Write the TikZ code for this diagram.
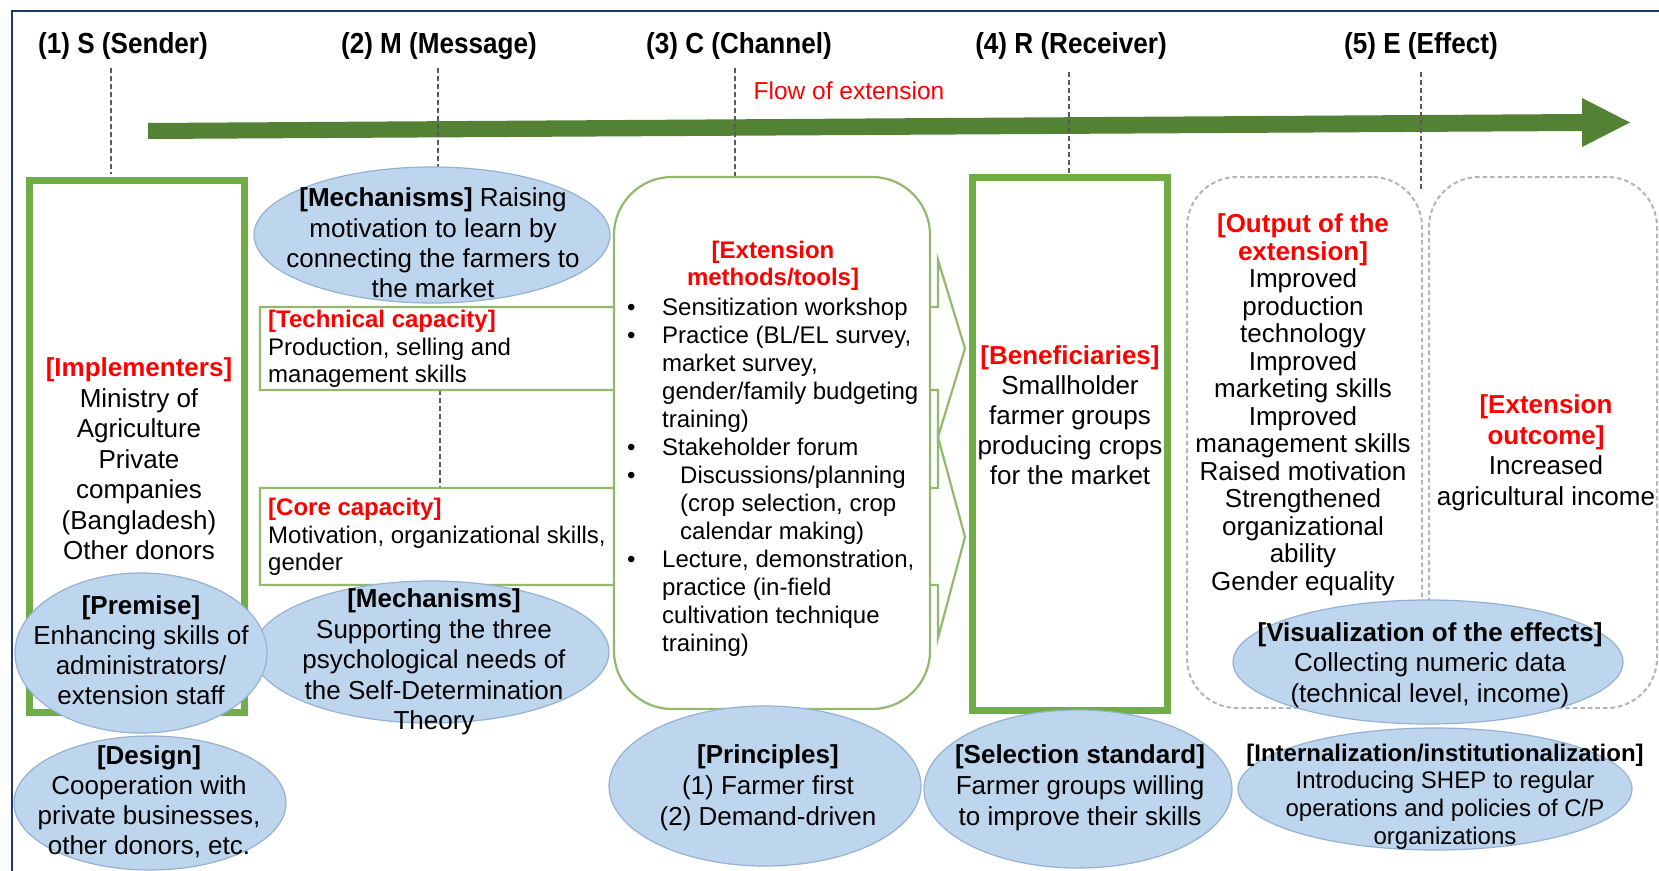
\documentclass[tikz,border=0pt]{standalone}
\usepackage{fontspec}
\setmainfont{Liberation Sans}
\newfontfamily\headfont[FakeStretch=0.9]{Liberation Sans}
\usetikzlibrary{shapes.geometric}

\definecolor{framec}{RGB}{31,56,100}
\definecolor{flowgreen}{RGB}{84,130,53}
\definecolor{boxgreen}{RGB}{112,173,71}
\definecolor{thingreen}{RGB}{147,185,110}
\definecolor{bubble}{RGB}{189,213,237}
\definecolor{bubbleedge}{RGB}{150,178,210}
\definecolor{dashgray}{RGB}{180,180,180}
\definecolor{guidegray}{RGB}{90,90,90}
\definecolor{hot}{RGB}{255,0,0}

\newcommand\hl[1]{\textcolor{hot}{\bfseries #1}}
\newcommand\itemdot{\makebox[0pt]{\textbullet}\hspace*{31pt}}
\newcommand\itemgap{\hspace*{31pt}}

\begin{document}
\begin{tikzpicture}[x=1pt,y=-1pt,
  head/.style={inner sep=0pt, font={\headfont\bfseries\fontsize{29}{34}\selectfont}},
  body/.style={inner sep=0pt, align=center, font={\fontsize{26}{30}\selectfont}},
  small/.style={inner sep=0pt, font={\fontsize{24}{27.5}\selectfont}},
  guide/.style={draw=guidegray, line width=1.4pt, dash pattern=on 5pt off 3pt},
  thickbox/.style={draw=boxgreen, line width=7pt, fill=white, inner sep=0pt},
  thinline/.style={draw=thingreen, line width=2.2pt, fill=white},
  dashbox/.style={draw=dashgray, line width=2pt, dash pattern=on 4.5pt off 3pt, rounded corners=50pt, inner sep=0pt},
  bubble/.style={ellipse, draw=bubbleedge, fill=bubble, line width=1.2pt, inner sep=0pt}
]
\useasboundingbox (0,0) rectangle (1659,870);
\clip (0,0) rectangle (1659,870);
\fill[white] (0,0) rectangle (1659,870);

% outer frame
\draw[framec, line width=2.2pt] (12,11) rectangle (1700,900);

% column headings
\node[head] (hS) at (123,46) {(1) S (Sender)};
\node[head] (hM) at (439,46) {(2) M (Message)};
\node[head] (hC) at (739,46) {(3) C (Channel)};
\node[head] (hR) at (1071,46) {(4) R (Receiver)};
\node[head] (hE) at (1421,46) {(5) E (Effect)};

% flow of extension arrow
\fill[flowgreen] (148,123) -- (1582,114) -- (1582,98) -- (1630,122.5)
  -- (1582,147) -- (1582,131) -- (148,139) -- cycle;
\node[inner sep=0pt, text=hot, font={\fontsize{24.5}{28}\selectfont}] (flow) at (849,91) {Flow of extension};

% column guide lines
\coordinate (gS1) at (111,68);   \coordinate (gS2) at (111,174);
\coordinate (gM1) at (438,68);   \coordinate (gM2) at (438,168);
\coordinate (gM3) at (440,390);  \coordinate (gM4) at (440,488);
\coordinate (gC1) at (735,68);   \coordinate (gC2) at (735,176);
\coordinate (gR1) at (1069,72);  \coordinate (gR2) at (1069,176);
\coordinate (gE1) at (1421,72);  \coordinate (gE2) at (1421,192);
\draw[guide] (gS1) -- (gS2);
\draw[guide] (gM1) -- (gM2);
\draw[guide] (gM3) -- (gM4);
\draw[guide] (gC1) -- (gC2);
\draw[guide] (gR1) -- (gR2);
\draw[guide] (gE1) -- (gE2);

% capacity arrows running through the channel
\path[thinline] (260,307) -- (938,307) -- (938,260) -- (965,348.5) -- (938,437)
  -- (938,390) -- (260,390) -- cycle;
\path[thinline] (260,488) -- (938,488) -- (938,437) -- (965,537) -- (938,638)
  -- (938,585) -- (260,585) -- cycle;

% channel box
\node[thinline, rounded corners=58pt, minimum width=316pt, minimum height=532pt, inner sep=0pt] (channel) at (772,443) {};

% sender and receiver boxes
\node[thickbox, minimum width=214.5pt, minimum height=532pt] (sender) at (136.75,446) {};
\node[thickbox, minimum width=195pt, minimum height=533pt] (receiver) at (1069.5,443.5) {};

% effect boxes
\node[dashbox, minimum width=235pt, minimum height=531pt] (output) at (1304.5,442.5) {};
\node[dashbox, minimum width=228pt, minimum height=531pt] (outcome) at (1543,442.5) {};

% bubbles
\node[bubble, minimum width=356pt, minimum height=136pt] (mechA) at (432,235) {};
\node[bubble, minimum width=356pt, minimum height=142pt] (mechB) at (431,652) {};
\node[bubble, minimum width=252pt, minimum height=160pt] (premise) at (141,653) {};
\node[bubble, minimum width=272pt, minimum height=134pt] (design) at (150,803) {};
\node[bubble, minimum width=312pt, minimum height=160pt] (principles) at (765,786) {};
\node[bubble, minimum width=308pt, minimum height=158pt] (selection) at (1078,789) {};
\node[bubble, minimum width=390pt, minimum height=124pt] (visual) at (1428,662) {};
\node[bubble, minimum width=394pt, minimum height=122pt] (intern) at (1435,789) {};

% texts
\node[body, font={\fontsize{26}{30.5}\selectfont}] (impl) at (139,459)
  {\hl{[Implementers]}\\Ministry of\\Agriculture\\Private\\companies\\(Bangladesh)\\Other donors};
\node[body, font={\fontsize{26}{30.3}\selectfont}] (mechAtxt) at (433,243)
  {\textbf{[Mechanisms]} Raising\\motivation to learn by\\connecting the farmers to\\the market};
\node[small, align=left, anchor=west] (techtxt) at (268,349)
  {\hl{[Technical capacity]}\\Production, selling and\\management skills};
\node[small, align=left, anchor=west] (coretxt) at (268,537)
  {\hl{[Core capacity]}\\Motivation, organizational skills,\\gender};
\node[small, align=center, font={\fontsize{24}{27}\selectfont}] (methodshead) at (773,266)
  {\hl{[Extension}\\\hl{methods/tools]}};
\node[small, align=left, anchor=west, font={\fontsize{24}{28}\selectfont}] (methods) at (631,477)
  {\itemdot Sensitization workshop\\
   \itemdot Practice (BL/EL survey,\\
   \itemgap market survey,\\
   \itemgap gender/family budgeting\\
   \itemgap training)\\
   \itemdot Stakeholder forum\\
   \makebox[0pt]{\textbullet}\hspace*{49pt}Discussions/planning\\
   \hspace*{49pt}(crop selection, crop\\
   \hspace*{49pt}calendar making)\\
   \itemdot Lecture, demonstration,\\
   \itemgap practice (in-field\\
   \itemgap cultivation technique\\
   \itemgap training)};
\node[body] (benef) at (1070,415)
  {\hl{[Beneficiaries]}\\Smallholder\\farmer groups\\producing crops\\for the market};
\node[body, font={\fontsize{26}{27.5}\selectfont}] (outtxt) at (1303,405)
  {\hl{[Output of the}\\\hl{extension]}\\Improved\\production\\technology\\Improved\\marketing skills\\Improved\\management skills\\Raised motivation\\Strengthened\\organizational\\ability\\Gender equality};
\node[body, font={\fontsize{26}{30.5}\selectfont}] (outctxt) at (1546,453)
  {\hl{[Extension}\\\hl{outcome]}\\Increased\\agricultural income};
\node[body] (premtxt) at (141,650.5)
  {\textbf{[Premise]}\\Enhancing skills of\\administrators/\\extension staff};
\node[body, font={\fontsize{26}{30.5}\selectfont}] (mechBtxt) at (434,662)
  {\textbf{[Mechanisms]}\\Supporting the three\\psychological needs of\\the Self-Determination\\Theory};
\node[body] (designtxt) at (149,801.5)
  {\textbf{[Design]}\\Cooperation with\\private businesses,\\other donors, etc.};
\node[body, font={\fontsize{26}{31}\selectfont}] (printxt) at (768,788)
  {\textbf{[Principles]}\\(1) Farmer first\\(2) Demand-driven};
\node[body, font={\fontsize{26}{31}\selectfont}] (seltxt) at (1080,788)
  {\textbf{[Selection standard]}\\Farmer groups willing\\to improve their skills};
\node[body, font={\fontsize{26}{30.5}\selectfont}] (vistxt) at (1430,665)
  {\textbf{[Visualization of the effects]}\\Collecting numeric data\\(technical level, income)};
\node[small, align=center, font={\fontsize{24}{27.7}\selectfont}] (inttxt) at (1445,796.5)
  {\textbf{[Internalization/institutionalization]}\\Introducing SHEP to regular\\operations and policies of C/P\\organizations};
\end{tikzpicture}
\end{document}
